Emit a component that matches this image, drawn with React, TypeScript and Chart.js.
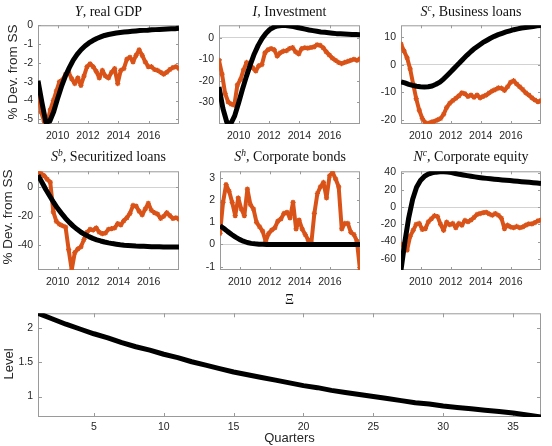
import React, { useEffect, useRef } from "react";
import { Chart, registerables } from "chart.js";
Chart.register(...registerables);

// ---------- axis tick labels ----------
const yearTicks = [2010, 2012, 2014, 2016];
const quarterTicks = [5, 10, 15, 20, 25, 30, 35];
const gdpTicks = [-5, -4, -3, -2, -1, 0];
const invTicks = [-30, -20, -10, 0];
const bizTicks = [-20, -10, 0, 10];
const secTicks = [-40, -20, 0];
const bondTicks = [-1, 0, 1, 2, 3];
const equityTicks = [-60, -40, -20, 0, 20, 40];
const levelTicks = [1, 1.5, 2];

const sampleStart = 2008.7;
const sampleEnd = 2018.0;

// ---------- model responses (quarterly, 37 quarters) ----------
const gdpModel = [-2.95, -4.1, -5.15, -5.1, -4.6, -3.9, -3.25, -2.7, -2.25, -1.85, -1.55, -1.3, -1.1, -0.94, -0.81, -0.7, -0.62, -0.54, -0.49, -0.45, -0.41, -0.38, -0.36, -0.34, -0.32, -0.3, -0.28, -0.27, -0.26, -0.24, -0.23, -0.22, -0.21, -0.2, -0.19, -0.18, -0.16];
const invModel = [-23, -33, -39.5, -40.2, -36.5, -30.5, -24, -18, -12.5, -7.5, -3.5, -0.3, 2.2, 4.0, 5.0, 5.6, 5.8, 5.8, 5.6, 5.3, 4.9, 4.5, 4.1, 3.7, 3.4, 3.1, 2.8, 2.6, 2.4, 2.2, 2.0, 1.9, 1.8, 1.7, 1.6, 1.55, 1.5];
const bizModel = [-6.2, -6.6, -7.1, -7.5, -7.8, -8.0, -8.1, -8.0, -7.7, -7.1, -6.3, -5.1, -3.7, -2.3, -0.8, 0.6, 2.1, 3.5, 4.8, 6.0, 7.0, 8.0, 8.8, 9.6, 10.3, 10.9, 11.4, 11.9, 12.3, 12.7, 13.0, 13.3, 13.5, 13.7, 13.9, 14.1, 14.2];
const secModel = [8.3, 3.5, -1.5, -6, -10.5, -14.5, -18, -21.3, -24.2, -26.8, -29, -31, -32.6, -34, -35.2, -36.2, -37, -37.7, -38.3, -38.8, -39.2, -39.6, -39.9, -40.1, -40.3, -40.5, -40.6, -40.7, -40.8, -40.9, -41.0, -41.0, -41.1, -41.1, -41.2, -41.2, -41.2];
const bondModel = [0.85, 0.72, 0.58, 0.45, 0.33, 0.23, 0.15, 0.09, 0.05, 0.03, 0.015, 0.008, 0.004, 0.002, 0.001, 0, 0, 0, 0, 0, 0, 0, 0, 0, 0, 0, 0, 0, 0, 0, 0, 0, 0, 0, 0, 0, 0];
const equityModel = [-73, -40, -12, 9, 23, 30.8, 35.5, 38.3, 39.7, 40.5, 40.9, 41, 40.7, 40, 39, 38, 37.2, 36.5, 35.7, 35, 34.4, 33.8, 33.3, 32.8, 32.3, 31.9, 31.5, 31.1, 30.7, 30.3, 29.9, 29.5, 29.1, 28.7, 28.2, 27.8, 27.4];

// ---------- observed data ----------
const gdpData = [-3.4, -4.6, -5.1, -5.2, -4.5, -4.0, -3.5, -3.0, -2.9, -2.6, -2.5, -2.85, -3.1, -2.8, -3.2, -2.7, -2.2, -2.05, -2.2, -2.45, -2.8, -2.4, -2.7, -2.8, -2.5, -2.3, -3.1, -2.4, -2.3, -1.8, -1.7, -1.95, -1.6, -1.3, -1.6, -1.95, -2.2, -2.2, -2.35, -2.4, -2.5, -2.6, -2.5, -2.35, -2.25, -2.2, -2.3];
const invData = [-10.5, -17, -26, -30, -31, -31.5, -22, -19.5, -15, -11.5, -12, -14, -15.5, -13, -12.5, -7, -5.5, -5, -5.5, -8.5, -7, -6.2, -6, -5, -4.5, -6.5, -7.5, -5, -4.6, -4.8, -4.5, -4.2, -3.2, -3.5, -4.6, -6.5, -8, -9.5, -10.5, -11.5, -12, -11.5, -11, -10.5, -10, -10.5, -9.8];
const bizData = [7.5, 5, 2.5, -1.5, -7, -12.3, -16.5, -19.5, -21, -21.3, -20.8, -20.5, -20, -19.5, -18, -15.5, -14, -13, -12.2, -11.3, -10.2, -10.5, -11.5, -11, -11.8, -11, -12, -11.5, -11, -10.2, -9.5, -9, -8.4, -8.5, -9.3, -8, -6.4, -5.8, -7, -8, -9, -10.2, -11, -12, -12.8, -13.4, -13];
const secData = [10.5, 9.5, 8, 5.5, 3.5, -17, -23.5, -25.5, -26.5, -27.5, -43, -57, -45, -42.5, -41, -36, -31, -29, -29.5, -28, -31, -32, -31.5, -29, -28.5, -28, -25, -26, -23, -21, -18, -12.5, -13, -16.5, -19, -15, -11, -16, -17.5, -18.5, -21.5, -20, -17.5, -19.5, -21.5, -21, -22];
const bondData = [0.5, 1.9, 2.7, 2.4, 1.9, 1.3, 2.1, 1.6, 1.3, 2.5, 1.8, 1.6, 1.0, 0.8, 0.6, 0.15, 0.5, 0.65, 0.75, 1.05, 1.15, 1.4, 1.45, 1.2, 1.9, 0.7, 1.1, 0.7, 0.45, 0.2, 0.05, 1.4, 2.3, 2.6, 2.8, 2.1, 3.1, 3.25, 2.95, 2.6, 0.7, 0.95, 0.95, 0.55, 0.45, 0.15, -1.15];
const equityData = [-43, -45, -50, -34, -27, -20, -19, -26, -25, -17, -13.5, -10, -11, -20, -27, -17.5, -20.5, -19, -24, -19, -21, -15.5, -17, -15, -12, -8.5, -7.5, -6.5, -6, -8, -9.5, -7.5, -9.5, -13, -25, -21, -23, -24, -22.5, -24, -23, -21, -19.5, -19.5, -18, -16, -15];

// ---------- bottom panel ----------
const xiLevel = [2.22, 2.14, 2.06, 1.99, 1.92, 1.86, 1.79, 1.73, 1.68, 1.62, 1.57, 1.51, 1.46, 1.41, 1.36, 1.32, 1.28, 1.24, 1.2, 1.16, 1.13, 1.09, 1.06, 1.03, 1.0, 0.97, 0.94, 0.91, 0.89, 0.86, 0.84, 0.82, 0.8, 0.78, 0.76, 0.73, 0.7];

const ORANGE = "#D95319";
const TICK_COLOR = "#262626";
const BOX_COLOR = "#9a9a9a";
const ZERO_COLOR = "#d2d2d2";
const SANS = "'Liberation Sans', Arial, sans-serif";
const SERIF = "'Liberation Serif', 'Times New Roman', serif";

type Rect = { l: number; t: number; r: number; b: number };
type Spec = {
  model: number[];
  data?: number[];
  quarters?: boolean;
  yMin: number;
  yMax: number;
  yTicks: number[];
  rect: Rect;
  zero: boolean;
};

function yearsFor(n: number) {
  return Array.from({ length: n }, (_, i) => sampleStart + (i * (sampleEnd - sampleStart)) / (n - 1));
}

const YW = 34;
const PT = 10;
const PR = 10;

function Panel({ spec }: { spec: Spec }) {
  const ref = useRef<HTMLCanvasElement>(null);
  const XH = spec.quarters ? 22 : 24;
  const pw = spec.rect.r - spec.rect.l;
  const ph = spec.rect.b - spec.rect.t;
  const W = YW + pw + PR;
  const H = PT + ph + XH;

  useEffect(() => {
    const xs = spec.quarters ? spec.model.map((_, i) => i + 1) : yearsFor(spec.model.length);
    const datasets: any[] = [
      {
        data: spec.model.map((v, i) => ({ x: xs[i], y: v })),
        borderColor: "#000",
        borderWidth: 5,
        pointRadius: 0,
        tension: 0,
        borderJoinStyle: "round",
      },
    ];
    if (spec.data) {
      const ds = yearsFor(spec.data.length);
      datasets.push({
        data: spec.data.map((v, i) => ({ x: ds[i], y: v })),
        borderColor: ORANGE,
        borderWidth: 4,
        pointStyle: "star",
        pointRadius: 2.6,
        pointBorderWidth: 1.2,
        pointBorderColor: ORANGE,
        pointBackgroundColor: ORANGE,
        tension: 0,
        borderJoinStyle: "round",
      });
    }
    const xTicks = spec.quarters ? quarterTicks : yearTicks;
    const tickLen = spec.quarters ? 4 : 3;
    const boxPlugin = {
      id: "box",
      beforeDatasetsDraw(chart: any) {
        const { ctx, chartArea } = chart;
        const { left, right, top, bottom } = chartArea;
        const x = chart.scales.x;
        const y = chart.scales.y;
        ctx.save();
        ctx.strokeStyle = BOX_COLOR;
        ctx.lineWidth = 1;
        ctx.strokeRect(left + 0.5, top + 0.5, right - left - 1, bottom - top - 1);
        ctx.beginPath();
        x.ticks.forEach((t: any) => {
          const px = Math.round(x.getPixelForValue(t.value)) + 0.5;
          ctx.moveTo(px, bottom);
          ctx.lineTo(px, bottom - tickLen);
          ctx.moveTo(px, top);
          ctx.lineTo(px, top + tickLen);
        });
        y.ticks.forEach((t: any) => {
          const py = Math.round(y.getPixelForValue(t.value)) + 0.5;
          ctx.moveTo(left, py);
          ctx.lineTo(left + tickLen, py);
          ctx.moveTo(right, py);
          ctx.lineTo(right - tickLen, py);
        });
        ctx.stroke();
        ctx.restore();
      },
    };
    const chart = new Chart(ref.current as HTMLCanvasElement, {
      type: "line",
      data: { datasets },
      plugins: [boxPlugin],
      options: {
        animation: false,
        responsive: false,
        maintainAspectRatio: false,
        events: [],
        layout: { padding: { left: 0, top: PT, right: PR, bottom: 0 } },
        plugins: { legend: { display: false }, tooltip: { enabled: false }, title: { display: false } },
        scales: {
          x: {
            type: "linear",
            bounds: "data",
            min: spec.quarters ? 1 : sampleStart,
            max: spec.quarters ? 37 : sampleEnd,
            afterBuildTicks: (s: any) => {
              s.ticks = xTicks.map((v) => ({ value: v }));
            },
            afterFit: (s: any) => {
              s.height = XH;
            },
            grid: { display: false, drawTicks: false },
            border: { display: false },
            ticks: {
              autoSkip: false,
              maxRotation: 0,
              padding: spec.quarters ? 4 : 6,
              color: TICK_COLOR,
              font: { family: SANS, size: 10.5 },
              callback: (v: any) => String(v),
            },
          },
          y: {
            type: "linear",
            bounds: "data",
            min: spec.yMin,
            max: spec.yMax,
            afterBuildTicks: (s: any) => {
              s.ticks = spec.yTicks.map((v) => ({ value: v }));
            },
            afterFit: (s: any) => {
              s.width = YW;
            },
            grid: {
              drawTicks: false,
              lineWidth: 1,
              color: (c: any) => (spec.zero && c.tick && c.tick.value === 0 ? ZERO_COLOR : "rgba(0,0,0,0)"),
            },
            border: { display: false },
            ticks: {
              autoSkip: false,
              padding: 5,
              color: TICK_COLOR,
              font: { family: SANS, size: 10.5 },
              callback: (v: any) => String(v),
            },
          },
        },
      } as any,
    });
    return () => chart.destroy();
  }, []);

  return (
    <canvas
      ref={ref}
      width={W}
      height={H}
      style={{ position: "absolute", left: spec.rect.l - YW, top: spec.rect.t - PT, width: W, height: H }}
    />
  );
}

const supStyle: React.CSSProperties = { fontSize: "0.68em", verticalAlign: "0.55em", lineHeight: 0, fontStyle: "italic" };

function Title({ rect, cy, children }: { rect: Rect; cy: number; children: React.ReactNode }) {
  return (
    <div
      style={{
        position: "absolute",
        left: rect.l - 20,
        width: rect.r - rect.l + 40,
        top: cy - 8,
        height: 16,
        lineHeight: "16px",
        textAlign: "center",
        fontFamily: SERIF,
        fontSize: 14,
        color: "#111",
        whiteSpace: "nowrap",
      }}
    >
      {children}
    </div>
  );
}

function VLabel({ cx, cy, text, size }: { cx: number; cy: number; text: string; size: number }) {
  return (
    <div
      style={{
        position: "absolute",
        left: cx,
        top: cy,
        transform: "translate(-50%, -50%) rotate(-90deg)",
        whiteSpace: "nowrap",
        fontFamily: SANS,
        fontSize: size,
        color: TICK_COLOR,
        lineHeight: 1,
      }}
    >
      {text}
    </div>
  );
}

const R1: Rect = { l: 38, t: 24, r: 179, b: 124 };
const R2: Rect = { l: 219, t: 24, r: 360, b: 124 };
const R3: Rect = { l: 401, t: 24, r: 541, b: 124 };
const R4: Rect = { l: 38, t: 170, r: 179, b: 270 };
const R5: Rect = { l: 220, t: 170, r: 360, b: 270 };
const R6: Rect = { l: 401, t: 170, r: 541, b: 270 };
const R7: Rect = { l: 38, t: 312, r: 541, b: 417 };

export default function App() {
  const specs: Spec[] = [
    { model: gdpModel, data: gdpData, yMin: -5.25, yMax: 0, yTicks: gdpTicks, rect: R1, zero: true },
    { model: invModel, data: invData, yMin: -40.3, yMax: 5.9, yTicks: invTicks, rect: R2, zero: true },
    { model: bizModel, data: bizData, yMin: -21.5, yMax: 14.3, yTicks: bizTicks, rect: R3, zero: true },
    { model: secModel, data: secData, yMin: -57, yMax: 11, yTicks: secTicks, rect: R4, zero: true },
    { model: bondModel, data: bondData, yMin: -1.15, yMax: 3.3, yTicks: bondTicks, rect: R5, zero: true },
    { model: equityModel, data: equityData, yMin: -73, yMax: 41.5, yTicks: equityTicks, rect: R6, zero: true },
    { model: xiLevel, quarters: true, yMin: 0.7, yMax: 2.22, yTicks: levelTicks, rect: R7, zero: false },
  ];
  return (
    <div style={{ position: "absolute", left: 0, top: 0, width: 552, height: 446, background: "#fff", overflow: "hidden" }}>
      {specs.map((s, i) => (
        <Panel key={i} spec={s} />
      ))}
      <Title rect={R1} cy={12}>
        <i>Y</i>, real GDP
      </Title>
      <Title rect={R2} cy={12}>
        <i>I</i>, Investment
      </Title>
      <Title rect={R3} cy={12}>
        <i>S</i>
        <span style={supStyle}>c</span>, Business loans
      </Title>
      <Title rect={R4} cy={157}>
        <i>S</i>
        <span style={supStyle}>b</span>, Securitized loans
      </Title>
      <Title rect={R5} cy={157}>
        <i>S</i>
        <span style={supStyle}>h</span>, Corporate bonds
      </Title>
      <Title rect={R6} cy={157}>
        <i>N</i>
        <span style={supStyle}>c</span>, Corporate equity
      </Title>
      <Title rect={R7} cy={300}>
        Ξ
      </Title>
      <VLabel cx={13} cy={72} text="% Dev. from SS" size={13.5} />
      <VLabel cx={8} cy={217} text="% Dev. from SS" size={13.5} />
      <VLabel cx={8} cy={364} text="Level" size={13} />
      <div
        style={{
          position: "absolute",
          left: R7.l,
          width: R7.r - R7.l,
          top: 431,
          textAlign: "center",
          fontFamily: SANS,
          fontSize: 13,
          color: TICK_COLOR,
          lineHeight: "14px",
        }}
      >
        Quarters
      </div>
    </div>
  );
}
